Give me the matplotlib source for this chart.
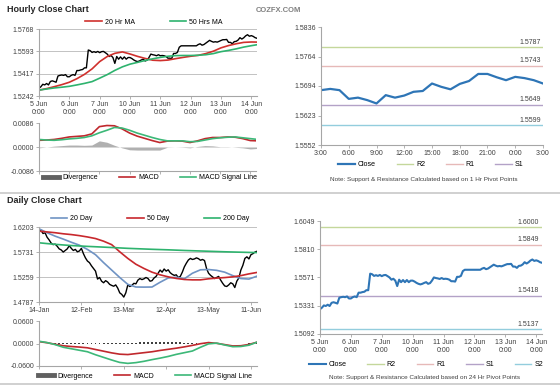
import numpy as np
import matplotlib.pyplot as plt
from matplotlib.lines import Line2D

plt.rcParams['font.family'] = ['Liberation Sans', 'DejaVu Sans']

W, H = 560, 385

# ---- hourly data (16 readings per day, from 5 Jun 0:00) ----
close_h = [
    1.5302, 1.5315, 1.5334, 1.5329, 1.5340, 1.5329, 1.5356, 1.5361, 1.5356, 1.5350, 1.5399, 1.5404, 1.5407, 1.5404, 1.5410, 1.5393,
    1.5393, 1.5404, 1.5410, 1.5404, 1.5442, 1.5442, 1.5447, 1.5450, 1.5463, 1.5463, 1.5603, 1.5598, 1.5584, 1.5590, 1.5584, 1.5592,
    1.5582, 1.5590, 1.5592, 1.5582, 1.5571, 1.5552, 1.5560, 1.5544, 1.5498, 1.5552, 1.5531, 1.5549, 1.5531, 1.5549, 1.5531, 1.5544,
    1.5544, 1.5536, 1.5525, 1.5517, 1.5512, 1.5517, 1.5525, 1.5531, 1.5517, 1.5523, 1.5544, 1.5571, 1.5566, 1.5563, 1.5558, 1.5566,
    1.5558, 1.5560, 1.5558, 1.5552, 1.5539, 1.5539, 1.5536, 1.5576, 1.5576, 1.5584, 1.5625, 1.5636, 1.5636, 1.5636, 1.5636, 1.5636,
    1.5636, 1.5636, 1.5636, 1.5636, 1.5646, 1.5652, 1.5641, 1.5646, 1.5657, 1.5668, 1.5679, 1.5671, 1.5665, 1.5668, 1.5665, 1.5671,
    1.5678, 1.5684, 1.5684, 1.5686, 1.5663, 1.5663, 1.5652, 1.5669, 1.5671, 1.5681, 1.5700, 1.5689, 1.5699, 1.5714, 1.5723, 1.5711,
    1.5716, 1.5710, 1.5700, 1.5695,
]
day_labels = ['5 Jun\n0:00', '6 Jun\n0:00', '7 Jun\n0:00', '10 Jun\n0:00',
              '11 Jun\n0:00', '12 Jun\n0:00', '13 Jun\n0:00', '14 Jun\n0:00']

# every 6 hours
ma20_h = [1.5288, 1.5300, 1.5315, 1.5331, 1.5350, 1.5378, 1.5412, 1.5455, 1.5512, 1.5552, 1.5577, 1.5588,
          1.5572, 1.5553, 1.5537, 1.5523, 1.5520, 1.5524, 1.5535, 1.5545, 1.5554, 1.5561, 1.5575, 1.5594,
          1.5620, 1.5638, 1.5652, 1.5663, 1.5666, 1.5665, 1.5669, 1.5676, 1.5686, 1.5694]
ma50_h = [1.5288, 1.5297, 1.5305, 1.5311, 1.5318, 1.5329, 1.5341, 1.5355, 1.5382, 1.5410, 1.5443, 1.5471,
          1.5492, 1.5506, 1.5521, 1.5534, 1.5545, 1.5554, 1.5559, 1.5560, 1.5560, 1.5562, 1.5566, 1.5575,
          1.5590, 1.5600, 1.5612, 1.5626, 1.5637, 1.5647, 1.5654, 1.5660, 1.5667, 1.5677]
macd_h = [0.0024, 0.0025, 0.0027, 0.0031, 0.0036, 0.0038, 0.0040, 0.0047, 0.0073, 0.0077, 0.0076, 0.0065,
          0.0050, 0.0039, 0.0031, 0.0023, 0.0016, 0.0021, 0.0022, 0.0021, 0.0016, 0.0022, 0.0030, 0.0034,
          0.0034, 0.0036, 0.0035, 0.0030, 0.0023, 0.0022, 0.0021, 0.0022, 0.0024, 0.0024]
signal_h = [0.0027, 0.0025, 0.0024, 0.0026, 0.0029, 0.0031, 0.0034, 0.0040, 0.0051, 0.0060, 0.0070, 0.0068,
            0.0060, 0.0050, 0.0042, 0.0034, 0.0027, 0.0022, 0.0022, 0.0022, 0.0019, 0.0020, 0.0025, 0.0030,
            0.0033, 0.0035, 0.0036, 0.0033, 0.0030, 0.0027, 0.0025, 0.0023, 0.0021, 0.0021]
div_h = [-0.0003, 0.0000, 0.0003, 0.0005, 0.0007, 0.0007, 0.0006, 0.0007, 0.0022, 0.0017, 0.0006, -0.0003,
         -0.0010, -0.0011, -0.0011, -0.0011, -0.0011, -0.0001, 0.0000, -0.0001, -0.0003, 0.0002, 0.0005, 0.0004,
         0.0001, 0.0001, -0.0001, -0.0003, -0.0007, -0.0005, -0.0004, -0.0001, 0.0003, 0.0003]

# last 24 hours, hourly from 3:00
close_24 = [1.5684, 1.5687, 1.5684, 1.5663, 1.5666, 1.5660, 1.5652, 1.5672, 1.5666, 1.5671, 1.5680, 1.5682,
            1.5700, 1.5692, 1.5686, 1.5699, 1.5706, 1.5723, 1.5723, 1.5715, 1.5708, 1.5716, 1.5713, 1.5708, 1.5700]
hour_labels = ['3:00', '6:00', '9:00', '12:00', '15:00', '18:00', '21:00', '0:00', '3:00']

lvl_names = ['R2', 'R1', 'S1', 'S2']
lvl_1h = [1.5787, 1.5743, 1.5649, 1.5599]
lvl_24h = [1.6000, 1.5849, 1.5418, 1.5137]
lvl_colors = ['#c4d79b', '#e6b9b8', '#b3a2c7', '#93cddd']

# ---- daily data ----
close_d = [
    1.6125, 1.6140, 1.6080, 1.6095, 1.6010, 1.5960, 1.5900, 1.5870, 1.5880, 1.5840,
    1.5790, 1.5770, 1.5730, 1.5760, 1.5790, 1.5850, 1.5800, 1.5760, 1.5780, 1.5735,
    1.5750, 1.5800, 1.5700, 1.5620, 1.5560, 1.5530, 1.5470, 1.5420, 1.5370, 1.5220,
    1.5250, 1.5180, 1.5150, 1.5190, 1.5165, 1.5120, 1.5100, 1.5085, 1.5110, 1.5050,
    1.4960, 1.4930, 1.4880, 1.4960, 1.5110, 1.5080, 1.5100, 1.5140, 1.5130, 1.5200,
    1.5230, 1.5210, 1.5225, 1.5250, 1.5230, 1.5180, 1.5190, 1.5240, 1.5270, 1.5330,
    1.5390, 1.5350, 1.5410, 1.5370, 1.5395, 1.5340, 1.5310, 1.5290, 1.5300, 1.5250,
    1.5270, 1.5350, 1.5450, 1.5520, 1.5580, 1.5610, 1.5590, 1.5600, 1.5620, 1.5605,
    1.5575, 1.5590, 1.5570, 1.5420, 1.5330, 1.5290, 1.5260, 1.5230, 1.5250, 1.5270,
    1.5200, 1.5140, 1.5090, 1.5080, 1.5110, 1.5150, 1.5130, 1.5060, 1.5180, 1.5240,
    1.5390, 1.5480, 1.5610, 1.5640, 1.5600, 1.5680, 1.5700, 1.5730, 1.5745,
]
month_labels = ['14-Jan', '12-Feb', '13-Mar', '12-Apr', '13-May', '11-Jun']

# every 4 trading days
ma20_d = [1.6170, 1.6095, 1.6030, 1.5975, 1.5915, 1.5860, 1.5780, 1.5680, 1.5530, 1.5390, 1.5250, 1.5120, 1.5070, 1.5068,
          1.5070, 1.5160, 1.5240, 1.5255, 1.5225, 1.5330, 1.5395, 1.5400, 1.5385, 1.5350, 1.5285, 1.5230, 1.5220, 1.5275]
ma50_d = [1.6125, 1.6110, 1.6095, 1.6075, 1.6060, 1.6040, 1.6015, 1.5985, 1.5935, 1.5870, 1.5735, 1.5610, 1.5500, 1.5420,
          1.5350, 1.5300, 1.5262, 1.5232, 1.5212, 1.5205, 1.5205, 1.5225, 1.5238, 1.5248, 1.5262, 1.5285, 1.5318, 1.5345]
ma200_d = [1.5905, 1.5890, 1.5876, 1.5864, 1.5853, 1.5845, 1.5837, 1.5830, 1.5823, 1.5816, 1.5808, 1.5800, 1.5794, 1.5788,
           1.5782, 1.5777, 1.5772, 1.5766, 1.5760, 1.5755, 1.5750, 1.5745, 1.5740, 1.5735, 1.5731, 1.5727, 1.5723, 1.5720]
macd_d = [0.0050, 0.0020, -0.0020, -0.0060, -0.0080, -0.0095, -0.0115, -0.0160, -0.0205, -0.0250, -0.0285, -0.0295, -0.0270, -0.0245,
          -0.0220, -0.0185, -0.0155, -0.0125, -0.0090, -0.0050, -0.0005, 0.0025, 0.0005, -0.0030, -0.0065, -0.0060, -0.0025, 0.0035]
signal_d = [0.0060, 0.0025, -0.0030, -0.0100, -0.0140, -0.0180, -0.0220, -0.0300, -0.0370, -0.0440, -0.0505, -0.0530, -0.0510, -0.0475,
            -0.0430, -0.0390, -0.0345, -0.0290, -0.0245, -0.0200, -0.0100, -0.0010, 0.0010, -0.0040, -0.0085, -0.0080, -0.0045, 0.0035]
# every 2 trading days
div_d = [-0.0010, -0.0008, -0.0005, 0.0000, 0.0005, 0.0010, 0.0012, 0.0015, 0.0012, 0.0015, 0.0018, 0.0015, 0.0018, 0.0020,
         0.0022, 0.0020, 0.0018, 0.0020, 0.0022, 0.0020, 0.0018, 0.0015, 0.0018, 0.0020, 0.0025, 0.0028, 0.0030, 0.0032,
         0.0030, 0.0035, 0.0032, 0.0030, 0.0033, 0.0030, 0.0028, 0.0030, 0.0025, 0.0022, 0.0020, 0.0015, 0.0010, 0.0005,
         0.0000, -0.0005, -0.0008, -0.0010, -0.0012, -0.0015, -0.0012, -0.0010, -0.0005, 0.0000, 0.0005, 0.0008, 0.0010]

GRAY = '#a6a6a6'
FS = 5


def px_axes(x0, y0, x1, y1):
    return fig.add_axes([x0 / W, 1 - y1 / H, (x1 - x0) / W, (y1 - y0) / H])


def style(ax):
    for s in ['top', 'right']:
        ax.spines[s].set_visible(False)
    for s in ['left', 'bottom']:
        ax.spines[s].set_color(GRAY)
        ax.spines[s].set_linewidth(0.8)
    ax.tick_params(labelsize=FS, colors=GRAY, labelcolor='#404040', length=2, width=0.6, pad=1.5)


def px_legend(ax, handles, labels, cx, cy, colsp):
    ax.legend(handles, labels, loc='center', bbox_to_anchor=(cx / W, 1 - cy / H),
              bbox_transform=fig.transFigure, ncol=len(handles), frameon=False, fontsize=FS,
              handlelength=2.4, handletextpad=0.4, columnspacing=colsp, borderpad=0)


fig = plt.figure(figsize=(W / 100, H / 100), dpi=100)

xh = np.arange(len(close_h)) / 16
xq = np.arange(len(ma20_h)) * 0.25
xend = xh[-1]

# ---------------- hourly close chart ----------------
fig.text(7 / W, 1 - 9 / H, 'Hourly Close Chart', fontsize=6.5, weight='bold', va='center', color='#262626')
fig.text(256 / W, 1 - 10 / H, 'COZFX.COM', fontsize=5.5, weight='bold', va='center', color='#808080')

ax = px_axes(39, 29, 257, 96)
style(ax)
ax.set_ylim(1.5242, 1.5768)
yt = [1.5242, 1.5417, 1.5593, 1.5768]
ax.set_yticks(yt, ['%.4f' % v for v in yt])
ax.yaxis.grid(True, color='#b8b8b8', lw=0.6)
ax.set_axisbelow(True)
ax.plot(xh, close_h, color='black', lw=1.0)
l1, = ax.plot(xq, ma20_h, color='#d0312d', lw=1.2)
l2, = ax.plot(xq, ma50_h, color='#2eb36e', lw=1.2)
ax.set_xlim(0, xend)
ax.set_xticks(range(8), day_labels)
px_legend(ax, [l1, l2], ['20 Hr MA', '50 Hrs MA'], 154, 22, 5)

ax = px_axes(39, 123, 256, 171)
style(ax)
ax.set_ylim(-0.0086, 0.0086)
yt = [-0.0086, 0.0, 0.0086]
ax.set_yticks(yt, ['%.4f' % v for v in yt])
ax.fill_between(xq, 0, div_h, color='#b0b0b0', lw=0)
m1, = ax.plot(xq, macd_h, color='#c0282d', lw=1.2)
m2, = ax.plot(xq, signal_h, color='#3cb878', lw=1.2)
ax.set_xlim(0, xend)
ax.set_xticks(range(8), [])
dh = Line2D([], [], color='#606060', lw=3.5)
px_legend(ax, [dh, m1, m2], ['Divergence', 'MACD', 'MACD Signal Line'], 150, 178, 3)

# last 24 hours with 1 Hr pivots
ax = px_axes(321, 27, 543, 145)
style(ax)
ax.set_ylim(1.5552, 1.5836)
yt = [1.5552, 1.5623, 1.5694, 1.5764, 1.5836]
ax.set_yticks(yt, ['%.4f' % v for v in yt])
x24 = np.arange(len(close_24))
hnd = []
for v, c in zip(lvl_1h, lvl_colors):
    h, = ax.plot([0, 24], [v, v], color=c, lw=1.0)
    hnd.append(h)
    ax.text(23.8, v + 0.0003, '%.4f' % v, fontsize=FS, ha='right', va='bottom', color='#404040')
cl, = ax.plot(x24, close_24, color='#2e75b6', lw=1.6)
ax.set_xlim(0, 24)
ax.set_xticks(range(0, 25, 3), hour_labels)
px_legend(ax, [cl] + hnd[:3], ['Close'] + lvl_names[:3], 431, 165, 3)
fig.text(424 / W, 1 - 180 / H, 'Note: Support & Resistance Calculated based on 1 Hr Pivot Points',
         fontsize=4.6, ha='center', va='center', color='#404040')

fig.add_artist(Line2D([0, 1], [1 - 192.5 / H] * 2, color='#c8c8c8', lw=1.2))

# ---------------- daily close chart ----------------
fig.text(7 / W, 1 - 201 / H, 'Daily Close Chart', fontsize=6.5, weight='bold', va='center', color='#262626')

xd = np.arange(len(close_d))
x4 = np.arange(len(ma20_d)) * 4
x2 = np.arange(len(div_d)) * 2

ax = px_axes(39, 227, 257, 302)
style(ax)
ax.set_ylim(1.4787, 1.6203)
yt = [1.4787, 1.5259, 1.5731, 1.6203]
ax.set_yticks(yt, ['%.4f' % v for v in yt])
ax.yaxis.grid(True, color='#b8b8b8', lw=0.6)
ax.set_axisbelow(True)
ax.plot(xd, close_d, color='black', lw=1.0)
d1, = ax.plot(x4, ma20_d, color='#6f93c4', lw=1.2)
d2, = ax.plot(x4, ma50_d, color='#c8282d', lw=1.2)
d3, = ax.plot(x4, ma200_d, color='#2eb36e', lw=1.2)
ax.set_xlim(0, 108)
ax.set_xticks([0, 21, 42, 63, 84, 105], month_labels)
px_legend(ax, [d1, d2, d3], ['20 Day', '50 Day', '200 Day'], 150, 219, 5)

ax = px_axes(39, 321, 257, 366)
style(ax)
ax.set_ylim(-0.06, 0.06)
yt = [-0.06, 0.0, 0.06]
ax.set_yticks(yt, ['%.4f' % v for v in yt])
ax.bar(x2, div_d, width=0.9, color='#404040')
e1, = ax.plot(x4, macd_d, color='#c0282d', lw=1.2)
e2, = ax.plot(x4, signal_d, color='#3cb878', lw=1.2)
ax.set_xlim(0, 108)
ax.set_xticks([0, 21, 42, 63, 84, 105], [])
px_legend(ax, [dh, e1, e2], ['Divergence', 'MACD', 'MACD Signal Line'], 145, 376, 3)

# hourly close with 24 Hr pivots
ax = px_axes(320, 221, 542, 334)
style(ax)
ax.set_ylim(1.5092, 1.6049)
yt = [1.5092, 1.5331, 1.5571, 1.5810, 1.6049]
ax.set_yticks(yt, ['%.4f' % v for v in yt])
hnd = []
for v, c in zip(lvl_24h, lvl_colors):
    h, = ax.plot([0, xend], [v, v], color=c, lw=1.0)
    hnd.append(h)
    ax.text(xend - 0.1, v + 0.001, '%.4f' % v, fontsize=FS, ha='right', va='bottom', color='#404040')
cl, = ax.plot(xh, close_h, color='#2e75b6', lw=1.5)
ax.set_xlim(0, xend)
ax.set_xticks(range(8), day_labels)
px_legend(ax, [cl] + hnd, ['Close'] + lvl_names, 426, 365, 3)
fig.text(425 / W, 1 - 377 / H, 'Note: Support & Resistance Calculated based on 24 Hr Pivot Points',
         fontsize=4.6, ha='center', va='center', color='#404040')

fig.add_artist(Line2D([0, 1], [1 - 383.5 / H] * 2, color='#c8c8c8', lw=1.2))

fig.savefig('out.png', dpi=100)
